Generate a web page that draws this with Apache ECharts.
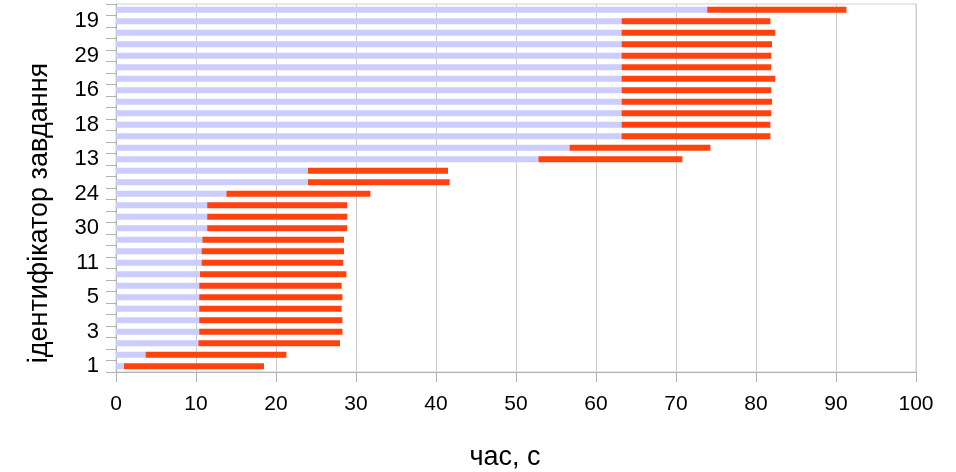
<!DOCTYPE html>
<html>
<head>
<meta charset="utf-8">
<script src="https://cdn.jsdelivr.net/npm/echarts@6/dist/echarts.min.js"></script>
<style>
html,body{margin:0;padding:0;background:#fff;}
#chart{width:956px;height:472px;}
</style>
</head>
<body>
<div id="chart"></div>
<script>
// task ids, bottom to top
const taskIds = ['1','2','4','3','6','7','5','8','9','11','10','12','30','14','15','24',
                 '17','20','13','21','22','18','23','25','16','26','27','29','28','31','19','32'];
// start times (s)
const startTimes = [1.0, 3.7, 10.3, 10.4, 10.4, 10.4, 10.4, 10.4, 10.5, 10.7, 10.7, 10.8, 11.4, 11.4, 11.4, 13.8,
                    24.0, 24.0, 52.8, 56.7, 63.2, 63.2, 63.2, 63.2, 63.2, 63.2, 63.2, 63.2, 63.2, 63.2, 63.2, 73.9];
// end times (s)
const endTimes = [18.5, 21.3, 28.0, 28.3, 28.3, 28.2, 28.3, 28.2, 28.8, 28.4, 28.5, 28.5, 28.9, 28.9, 28.9, 31.8,
                  41.7, 41.5, 70.8, 74.3, 81.8, 81.8, 81.9, 82.0, 81.9, 82.4, 81.9, 81.9, 82.0, 82.4, 81.8, 91.3];
const xTicks = [0, 10, 20, 30, 40, 50, 60, 70, 80, 90, 100];

const durations = endTimes.map((e, i) => +(e - startTimes[i]).toFixed(2));

const chart = echarts.init(document.getElementById('chart'), null, {renderer: 'canvas'});
const font = "'Liberation Sans', Arial, sans-serif";
chart.setOption({
  animation: false,
  backgroundColor: '#ffffff',
  textStyle: {fontFamily: font},
  grid: {left: 116, right: 40, top: 4, bottom: 100, containLabel: false, outerBoundsMode: 'none',
         show: true, borderColor: '#d0d0d0', borderWidth: 1},
  xAxis: {
    type: 'value',
    min: xTicks[0], max: xTicks[xTicks.length - 1], interval: 10,
    axisLine: {show: true, lineStyle: {color: '#b3b3b3', width: 1}},
    axisTick: {show: true, length: 10, lineStyle: {color: '#b3b3b3'}},
    splitLine: {show: true, lineStyle: {color: '#cccccc', width: 1}},
    axisLabel: {fontSize: 21, color: '#000', margin: 22, fontFamily: font},
    name: 'час, с',
    nameLocation: 'middle',
    nameGap: 72,
    nameMoveOverlap: false,
    nameTextStyle: {fontSize: 27, color: '#000', fontFamily: font, padding: [0, 22, 0, 0]}
  },
  yAxis: {
    type: 'category',
    data: taskIds,
    axisLine: {show: true, lineStyle: {color: '#b3b3b3', width: 1}},
    axisTick: {show: true, interval: 0, length: 10, alignWithLabel: false, lineStyle: {color: '#b3b3b3'}},
    splitLine: {show: false},
    axisLabel: {interval: 2, fontSize: 22, color: '#000', margin: 17, fontFamily: font},
    name: 'ідентифікатор завдання',
    nameLocation: 'middle',
    nameRotate: 90,
    nameGap: 63,
    nameMoveOverlap: false,
    nameTextStyle: {fontSize: 27, color: '#000', fontFamily: font, padding: [0, 50, 0, 0]}
  },
  series: [
    {type: 'bar', stack: 't', data: startTimes, barWidth: 6, itemStyle: {color: '#ccccff'}, silent: true},
    {type: 'bar', stack: 't', data: durations, barWidth: 6, itemStyle: {color: '#ff420e'}, silent: true}
  ]
});
</script>
</body>
</html>
